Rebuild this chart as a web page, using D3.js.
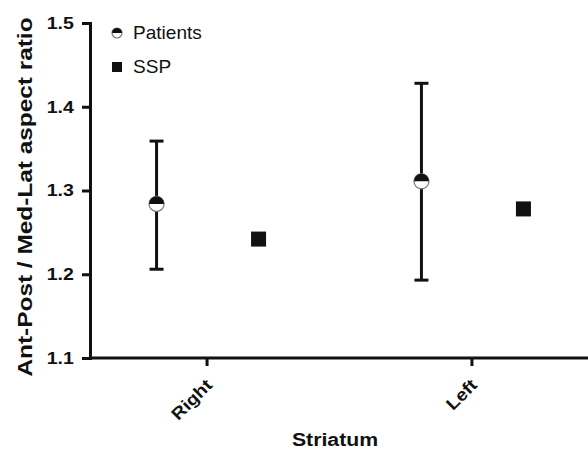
<!DOCTYPE html>
<html>
<head>
<meta charset="utf-8">
<script src="https://cdn.jsdelivr.net/npm/d3@7"></script>
<style>
	body { margin: 0; background: #fff; }
	text { font-family: "Liberation Sans", Arial, sans-serif; fill: #111; }
</style>
</head>
<body>
<div id="chart"></div>
<script>

// data
var categories = ["Right", "Left"];
var groups = ["Patients", "SSP"];
var patientMean = [1.284, 1.311];
var patientLow = [1.206, 1.193];
var patientHigh = [1.359, 1.428];
var sspValue = [1.242, 1.278];
var yTicks = [1.1, 1.2, 1.3, 1.4, 1.5];

var width = 588, height = 452,
	margin = {top: 23, right: 0, bottom: 94, left: 90};

var svg = d3.select("#chart").append("svg")
	.attr("width", width)
	.attr("height", height);

var x = d3.scalePoint().domain(categories)
	.range([margin.left, width - margin.right]).padding(0.44);
var offset = d3.scalePoint().domain(groups).range([-50, 52]);
var y = d3.scaleLinear().domain([1.1, 1.5]).range([height - margin.bottom, margin.top]);

// y axis
var yAxis = svg.append("g")
	.attr("transform", "translate(" + margin.left + ",0)")
	.call(d3.axisLeft(y).tickValues(yTicks).tickFormat(d3.format(".1f")).tickSize(8).tickPadding(6));

// x axis
var xAxis = svg.append("g")
	.attr("transform", "translate(0," + y(1.1) + ")")
	.call(d3.axisBottom(x).tickSize(8).tickSizeOuter(0));

[yAxis, xAxis].forEach(function(ax) {
	ax.select(".domain").attr("stroke", "#111").attr("stroke-width", 3);
	ax.selectAll(".tick line").attr("stroke", "#111").attr("stroke-width", 3);
	ax.selectAll("text").attr("fill", "#111").style("font-weight", "bold").style("font-size", "17px");
});
xAxis.select(".domain").attr("d", "M" + margin.left + ",0H" + width);

yAxis.selectAll(".tick text").attr("transform", "scale(1.15,1)");

xAxis.selectAll(".tick text")
	.attr("text-anchor", "end")
	.attr("x", 0).attr("y", 0)
	.attr("dy", "0.35em")
	.attr("transform", "translate(2,24) rotate(-45) scale(1.14,1)");

// axis titles
svg.append("text")
	.attr("transform", "translate(32,197) rotate(-90) scale(1.22,1)")
	.attr("text-anchor", "middle")
	.style("font-weight", "bold").style("font-size", "20px")
	.text("Ant-Post / Med-Lat aspect ratio");

svg.append("text")
	.attr("transform", "translate(335,446) scale(1.12,1)")
	.attr("text-anchor", "middle")
	.style("font-weight", "bold").style("font-size", "19px")
	.text("Striatum");

// half filled circle marker
function halfCircle(g, cx, cy, r) {
	g.append("circle").attr("cx", cx).attr("cy", cy).attr("r", r)
		.attr("fill", "#fff").attr("stroke", "#777").attr("stroke-width", 1.2);
	g.append("path")
		.attr("d", "M" + (cx - r) + "," + cy + "A" + r + "," + r + " 0 0 1 " + (cx + r) + "," + cy + "Z")
		.attr("fill", "#111");
}

// patients with error bars
var pts = svg.append("g");
categories.forEach(function(c, i) {
	var cx = x(c) + offset("Patients");
	pts.append("line").attr("x1", cx).attr("x2", cx)
		.attr("y1", y(patientLow[i])).attr("y2", y(patientHigh[i]))
		.attr("stroke", "#111").attr("stroke-width", 3);
	[patientLow[i], patientHigh[i]].forEach(function(v) {
		pts.append("line").attr("x1", cx - 7).attr("x2", cx + 7)
			.attr("y1", y(v)).attr("y2", y(v))
			.attr("stroke", "#111").attr("stroke-width", 3);
	});
	halfCircle(pts, cx, y(patientMean[i]), 7.5);
});

// SSP squares
svg.append("g").selectAll("rect")
	.data(sspValue)
	.enter().append("rect")
		.attr("x", function(d, i) { return x(categories[i]) + offset("SSP") - 7.5; })
		.attr("y", function(d) { return y(d) - 7.5; })
		.attr("width", 15).attr("height", 15)
		.attr("fill", "#111");

// legend
var legend = svg.append("g");
halfCircle(legend, 117, 33, 5);
legend.append("rect").attr("x", 112).attr("y", 62).attr("width", 10).attr("height", 10).attr("fill", "#111");
legend.append("text").attr("transform", "translate(133,39) scale(1.06,1)").style("font-size", "18px").text("Patients");
legend.append("text").attr("transform", "translate(133,73) scale(1.06,1)").style("font-size", "18px").text("SSP");

</script>
</body>
</html>
